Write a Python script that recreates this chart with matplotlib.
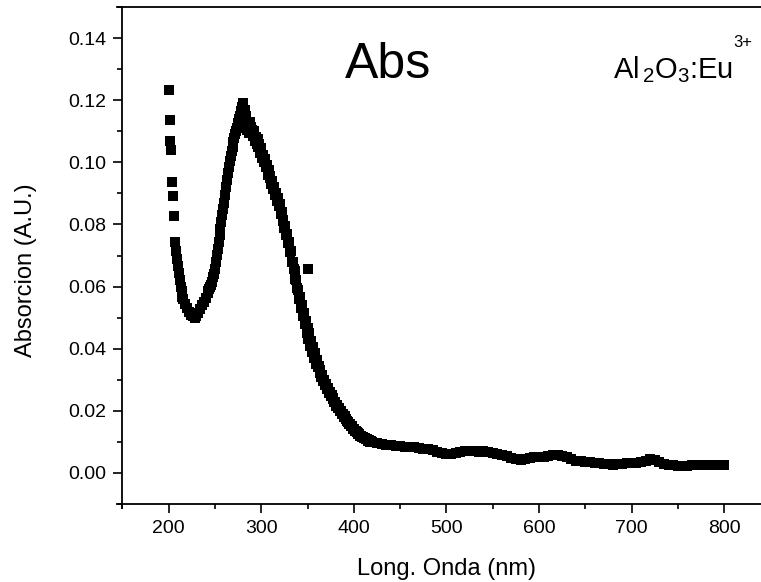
# plot.py
#
# Absorption spectrum of Al2O3:Eu3+ (Origin-style square markers).
# Values.

import matplotlib
matplotlib.use("Agg")
import matplotlib.pyplot as plt
from matplotlib.ticker import MultipleLocator

# === Data ===
# steep UV edge, 1 nm steps
wavelength_edge = [200, 201, 202, 203, 204, 205, 206, 207, 208, 209, 210, 211, 212, 213, 214, 215]
abs_edge = [0.1232, 0.1136, 0.1070, 0.1040, 0.0937, 0.0891, 0.0826, 0.0745, 0.0715, 0.0690,
            0.0665, 0.0645, 0.0622, 0.0600, 0.0585, 0.0568]

# band region, even wavelengths
wavelength_band = [216, 218, 220, 222, 224, 226, 228, 230, 232, 234, 236, 238, 240, 242, 244, 246,
                   248, 250, 252, 254, 256, 258, 260, 262, 264, 266, 268, 270, 272, 274, 276, 278,
                   280, 282, 284, 286, 288, 290, 292, 294, 296, 298, 300, 302, 304, 306, 308, 310,
                   312, 314, 316, 318, 320, 322, 324, 326, 328, 330, 332, 334, 336, 338, 340, 342,
                   344, 346, 348, 350, 352, 354, 356, 358, 360, 362, 364, 366, 368, 370, 372, 374,
                   376, 378, 380, 382, 384, 386, 388, 390, 392, 394, 396, 398, 400, 402, 404, 406,
                   408, 410, 412, 414, 416, 418, 420]
abs_band = [0.0560, 0.0545, 0.0530, 0.0518, 0.0510, 0.0505, 0.0500, 0.0505, 0.0515, 0.0528, 0.0540,
            0.0550, 0.0562, 0.0578, 0.0592, 0.0605, 0.0630, 0.0655, 0.0700, 0.0745, 0.0785, 0.0830,
            0.0870, 0.0920, 0.0965, 0.1005, 0.1035, 0.1065, 0.1090, 0.1110, 0.1140, 0.1165, 0.1190,
            0.1170, 0.1150, 0.1120, 0.1130, 0.1105, 0.1100, 0.1080, 0.1075, 0.1060, 0.1045, 0.1025,
            0.1010, 0.0990, 0.0975, 0.0955, 0.0940, 0.0920, 0.0900, 0.0885, 0.0865, 0.0840, 0.0815,
            0.0795, 0.0770, 0.0745, 0.0715, 0.0680, 0.0650, 0.0620, 0.0590, 0.0565, 0.0540, 0.0515,
            0.0490, 0.0465, 0.0450, 0.0425, 0.0405, 0.0385, 0.0365, 0.0345, 0.0330, 0.0315, 0.0300,
            0.0287, 0.0275, 0.0262, 0.0250, 0.0240, 0.0228, 0.0218, 0.0208, 0.0199, 0.0190, 0.0182,
            0.0175, 0.0165, 0.0158, 0.0150, 0.0142, 0.0136, 0.0130, 0.0125, 0.0120, 0.0115, 0.0111,
            0.0108, 0.0105, 0.0102, 0.0100]

# band region, odd wavelengths (readings scatter a little around the even ones)
wavelength_band_odd = [243, 245, 247, 249, 251, 253, 255, 257, 259, 261, 263, 265, 267, 269, 271,
                       273, 275, 277, 279, 281, 283, 285, 287, 289, 291, 293, 295, 297, 299, 301,
                       303, 305, 307, 309, 311, 313, 315, 317, 319, 321, 323, 325, 327, 329, 331,
                       333, 335, 337, 339, 341, 343, 345, 347, 349, 351, 353, 355, 357, 359, 361,
                       363, 365, 367, 369, 371, 373, 375, 377, 379, 381, 383, 385, 387, 389, 391,
                       393, 395, 397, 399, 401, 403, 405, 407, 409, 411, 413, 415, 417, 419]
abs_band_odd = [0.0585, 0.0598, 0.0615, 0.0640, 0.0680, 0.0722, 0.0765, 0.0808, 0.0850, 0.0895,
                0.0942, 0.0985, 0.1020, 0.1050, 0.1078, 0.1100, 0.1125, 0.1150, 0.1178, 0.1150,
                0.1125, 0.1105, 0.1095, 0.1115, 0.1085, 0.1070, 0.1060, 0.1050, 0.1030, 0.1015,
                0.1000, 0.0985, 0.0960, 0.0950, 0.0930, 0.0915, 0.0895, 0.0875, 0.0860, 0.0835,
                0.0810, 0.0790, 0.0765, 0.0740, 0.0710, 0.0680, 0.0655, 0.0625, 0.0595, 0.0560,
                0.0530, 0.0505, 0.0480, 0.0450, 0.0430, 0.0410, 0.0390, 0.0370, 0.0350, 0.0340,
                0.0322, 0.0310, 0.0295, 0.0283, 0.0270, 0.0258, 0.0248, 0.0237, 0.0227, 0.0217,
                0.0208, 0.0199, 0.0190, 0.0181, 0.0173, 0.0166, 0.0158, 0.0150, 0.0143, 0.0136,
                0.0131, 0.0126, 0.0120, 0.0116, 0.0112, 0.0108, 0.0104, 0.0101, 0.0099]

# flat tail, 5 nm steps
wavelength_tail = [425, 430, 435, 440, 445, 450, 455, 460, 465, 470, 475, 480, 485, 490, 495, 500,
                   505, 510, 515, 520, 525, 530, 535, 540, 545, 550, 555, 560, 565, 570, 575, 580,
                   585, 590, 595, 600, 605, 610, 615, 620, 625, 630, 635, 640, 645, 650, 655, 660,
                   665, 670, 675, 680, 685, 690, 695, 700, 705, 710, 715, 720, 725, 730, 735, 740,
                   745, 750, 755, 760, 765, 770, 775, 780, 785, 790, 795, 800]
abs_tail = [0.0097, 0.0094, 0.0091, 0.0089, 0.0088, 0.0087, 0.0085, 0.0083, 0.0082, 0.0080, 0.0078,
            0.0076, 0.0073, 0.0068, 0.0063, 0.0061, 0.0062, 0.0065, 0.0068, 0.0070, 0.0071, 0.0070,
            0.0068, 0.0070, 0.0068, 0.0065, 0.0062, 0.0058, 0.0053, 0.0047, 0.0044, 0.0043, 0.0045,
            0.0047, 0.0050, 0.0050, 0.0052, 0.0055, 0.0057, 0.0058, 0.0055, 0.0050, 0.0045, 0.0040,
            0.0037, 0.0036, 0.0035, 0.0033, 0.0031, 0.0029, 0.0028, 0.0027, 0.0028, 0.0029, 0.0031,
            0.0032, 0.0033, 0.0035, 0.0040, 0.0045, 0.0043, 0.0036, 0.0030, 0.0026, 0.0024, 0.0022,
            0.0022, 0.0023, 0.0024, 0.0025, 0.0026, 0.0026, 0.0027, 0.0027, 0.0027, 0.0027]

# stray point off the curve
wavelength_outlier = [351]
abs_outlier = [0.0655]

x_ticks = [200, 300, 400, 500, 600, 700, 800]
y_ticks = [0.00, 0.02, 0.04, 0.06, 0.08, 0.10, 0.12, 0.14]

# === Style ===
plt.rcParams['font.family'] = ['Liberation Sans', 'DejaVu Sans']
plt.rcParams['mathtext.fontset'] = 'custom'
plt.rcParams['mathtext.rm'] = 'Liberation Sans'
plt.rcParams['mathtext.it'] = 'Liberation Sans'

fig = plt.figure(figsize=(7.61, 5.82), dpi=100)
# axes run a bit past the right edge (the reference is cropped there)
ax = fig.add_axes([122.3 / 761, 78 / 582, (770.6 - 122.3) / 761, 497 / 582])

# === Markers ===
wavelength = wavelength_edge + wavelength_band + wavelength_band_odd + wavelength_tail + wavelength_outlier
absorbance = abs_edge + abs_band + abs_band_odd + abs_tail + abs_outlier
ax.plot(wavelength, absorbance, linestyle='none', marker='s', markersize=7,
        color='black', markeredgewidth=0)

# === Axes ===
ax.set_xlim(150, 850)
ax.set_ylim(-0.01, 0.15)
ax.set_xticks(x_ticks)
ax.set_yticks(y_ticks)
ax.set_yticklabels([f"{v:.2f}" for v in y_ticks])
ax.xaxis.set_minor_locator(MultipleLocator(50))
ax.yaxis.set_minor_locator(MultipleLocator(0.01))
ax.tick_params(which='major', direction='out', length=6.5, width=1.2, labelsize=14, pad=5)
ax.tick_params(which='minor', direction='out', length=3.6, width=1.2)
ax.tick_params(top=False, right=False, which='both')

for side in ['left', 'bottom', 'top']:
    ax.spines[side].set_linewidth(1.3)
ax.spines['right'].set_visible(False)
# Origin-style frame: horizontal lines poke a little past the y axis, y axis past the bottom
ax.spines['bottom'].set_bounds(144.6, 850)
ax.spines['top'].set_bounds(144.6, 850)
ax.spines['left'].set_bounds(-0.0113, 0.15)

ax.set_xlabel('Long. Onda (nm)', fontsize=17, labelpad=15)
ax.set_ylabel('Absorcion (A.U.)', fontsize=17)
ax.yaxis.set_label_coords(-0.132, 0.471)

# === Annotations ===
ax.text(437, 0.127, 'Abs', fontsize=36, ha='center', va='baseline')
formula = ax.text(680, 0.127, r'Al$_{\,2}$O$_3$:Eu', fontsize=21, ha='left', va='baseline')
ax.annotate('3+', xy=(1, 1), xycoords=formula, xytext=(0.5, 3), textcoords='offset points',
            fontsize=12, ha='left', va='bottom')

fig.savefig('out.png', dpi=100)
